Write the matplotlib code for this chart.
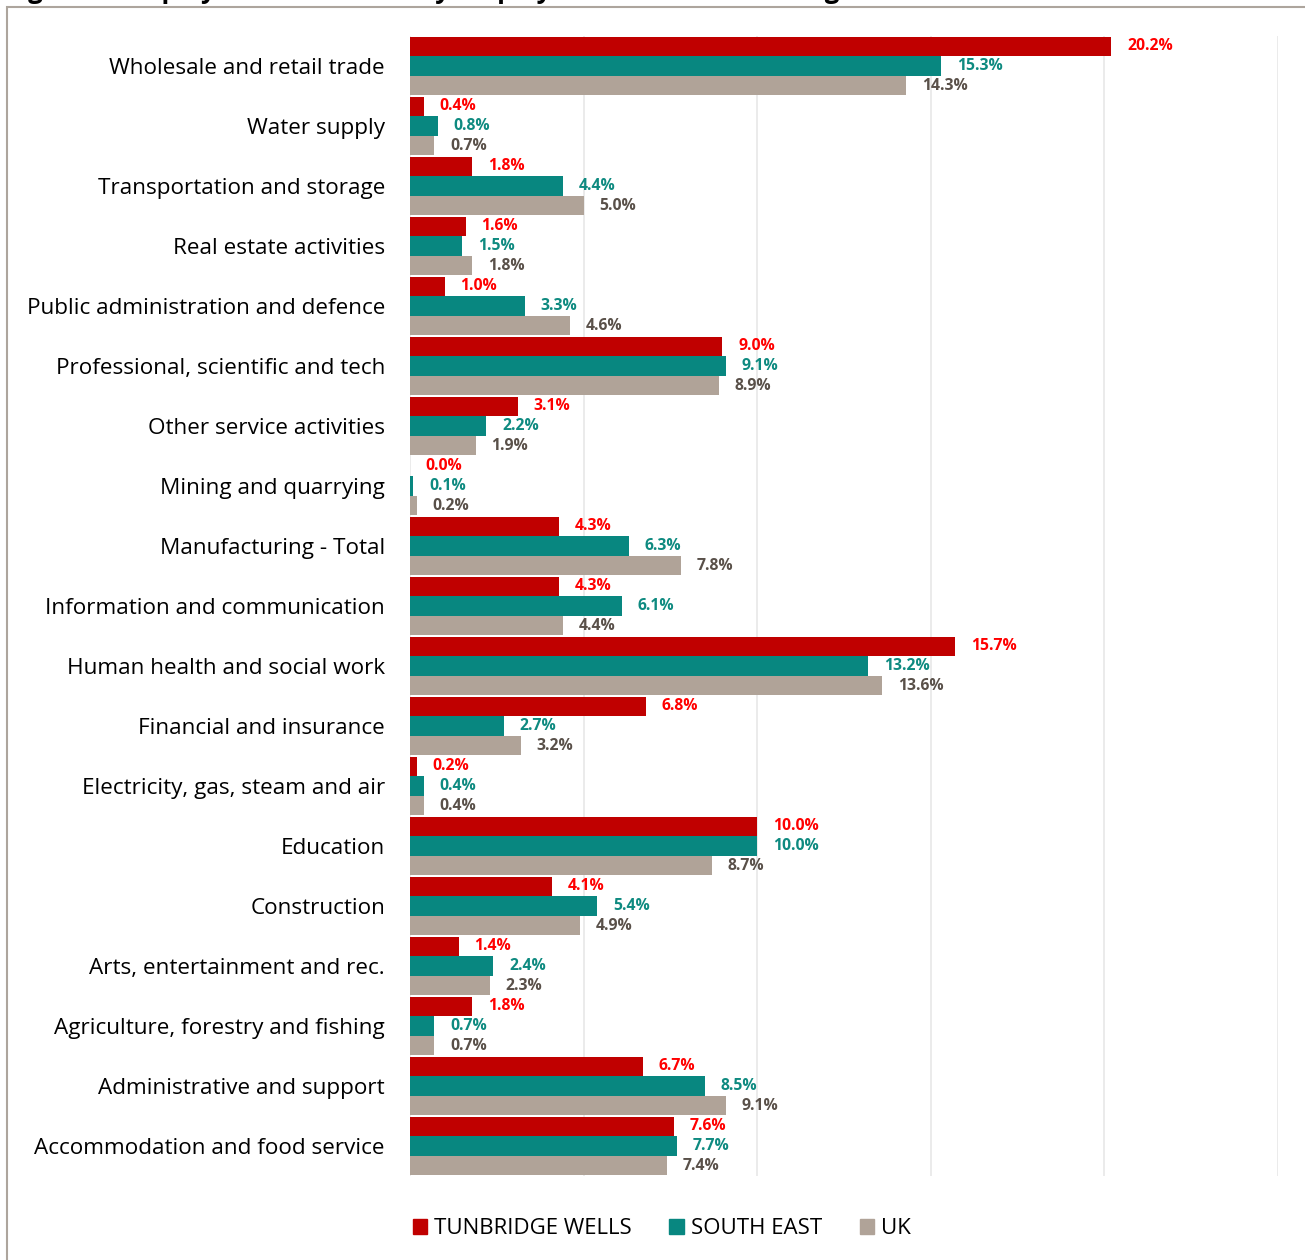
import matplotlib.pyplot as plt
import numpy as np
from matplotlib.patches import Rectangle, Patch

plt.rcParams['font.family'] = ['Open Sans', 'DejaVu Sans']

# sectors listed top to bottom
sectors = [
    "Wholesale and retail trade",
    "Water supply",
    "Transportation and storage",
    "Real estate activities",
    "Public administration and defence",
    "Professional, scientific and tech",
    "Other service activities",
    "Mining and quarrying",
    "Manufacturing - Total",
    "Information and communication",
    "Human health and social work",
    "Financial and insurance",
    "Electricity, gas, steam and air",
    "Education",
    "Construction",
    "Arts, entertainment and rec.",
    "Agriculture, forestry and fishing",
    "Administrative and support",
    "Accommodation and food service",
]
tunbridge_wells = [20.2, 0.4, 1.8, 1.6, 1.0, 9.0, 3.1, 0.0, 4.3, 4.3,
                   15.7, 6.8, 0.2, 10.0, 4.1, 1.4, 1.8, 6.7, 7.6]
south_east = [15.3, 0.8, 4.4, 1.5, 3.3, 9.1, 2.2, 0.1, 6.3, 6.1,
              13.2, 2.7, 0.4, 10.0, 5.4, 2.4, 0.7, 8.5, 7.7]
uk = [14.3, 0.7, 5.0, 1.8, 4.6, 8.9, 1.9, 0.2, 7.8, 4.4,
      13.6, 3.2, 0.4, 8.7, 4.9, 2.3, 0.7, 9.1, 7.4]

series = [
    ("TUNBRIDGE WELLS", tunbridge_wells, "#C00000", "#FF0000"),
    ("SOUTH EAST", south_east, "#088780", "#0E8A80"),
    ("UK", uk, "#B0A398", "#595049"),
]

W, H = 1305, 1260
fig = plt.figure(figsize=(W / 100, H / 100), dpi=100)
ax = fig.add_axes([410 / W, 1 - 1176 / H, (1278 - 410) / W, (1176 - 36) / H])

n = len(sectors)
pos = np.arange(n)
bh = 0.325
for k, (name, vals, col, lcol) in enumerate(series):
    y = pos + (k - 1) * bh
    ax.barh(y, vals, height=bh, color=col, label=name, zorder=2)
    for yy, v in zip(y, vals):
        ax.text(v + 0.45, yy, f"{v:.1f}%", va="center", ha="left",
                fontsize=11.3, fontweight="bold", color=lcol, zorder=3)

ax.set_ylim(n - 0.5, -0.5)
ax.set_xlim(0, 25)
ax.set_xticks(np.arange(0, 26, 5))
ax.set_xticklabels([])
ax.tick_params(axis="x", length=0)
ax.tick_params(axis="y", length=0, pad=18)
ax.set_yticks(pos)
ax.set_yticklabels(sectors, fontsize=16.2, color="#000000")
ax.grid(axis="x", color="#E8E8E8", linewidth=1.2, zorder=0)
for s in ax.spines.values():
    s.set_visible(False)

handles = [Patch(color=c, label=nm) for nm, _, c, _ in series]
fig.legend(handles=handles, loc="center", bbox_to_anchor=(0.507, 1 - 1229 / H),
           ncol=3, frameon=False, fontsize=16, handlelength=0.65, handleheight=0.65,
           handletextpad=0.3, columnspacing=1.7)

# outer frame, only its top and left edges fall inside the image
fig.patches.append(Rectangle((7 / W, -0.1), 1.2, 1.1 - 7 / H, transform=fig.transFigure,
                             fill=False, edgecolor="#ADA59D", linewidth=1.5))

# heading sits above the frame, mostly beyond the top edge
fig.text(6 / W, 1 + 2.5 / H,
         "Figure 4: Employment Structure by employee numbers - Tunbridge Wells and South East",
         fontsize=18.5, fontweight="bold", ha="left", va="baseline", color="#000000")

fig.savefig("out.png", dpi=100)
